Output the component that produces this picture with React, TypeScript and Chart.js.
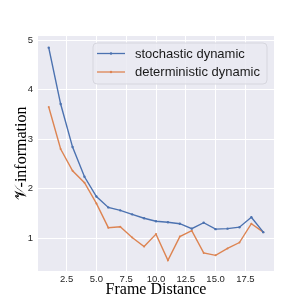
import React, { useEffect, useRef } from "react";
import { Chart, registerables } from "chart.js";

Chart.register(...registerables);

const frameDistance = [1, 2, 3, 4, 5, 6, 7, 8, 9, 10, 11, 12, 13, 14, 15, 16, 17, 18, 19];
const stochastic = [4.85, 3.71, 2.84, 2.24, 1.84, 1.62, 1.56, 1.48, 1.4, 1.34, 1.32, 1.29, 1.19, 1.31, 1.18, 1.19, 1.22, 1.42, 1.12];
const deterministic = [3.65, 2.8, 2.36, 2.12, 1.7, 1.21, 1.23, 1.01, 0.83, 1.08, 0.55, 1.03, 1.15, 0.7, 0.65, 0.79, 0.91, 1.29, 1.12];
const xTicks = [2.5, 5.0, 7.5, 10.0, 12.5, 15.0, 17.5];
const yTicks = [1, 2, 3, 4, 5];
const seriesNames = ["stochastic dynamic", "deterministic dynamic"];
const seriesColors = ["#4C72B0", "#DD8452"];

const bgPlugin = {
  id: "bgPlugin",
  beforeDraw(chart: any) {
    const { ctx, chartArea } = chart;
    ctx.save();
    ctx.fillStyle = "#EAEAF2";
    ctx.fillRect(chartArea.left, chartArea.top, chartArea.right - chartArea.left, chartArea.bottom - chartArea.top);
    ctx.restore();
  },
};

const legendPlugin = {
  id: "customLegend",
  afterDraw(chart: any) {
    const { ctx } = chart;
    const x0 = 93, y0 = 43, w = 174, h = 41, r = 4;
    ctx.save();
    ctx.beginPath();
    ctx.moveTo(x0 + r, y0);
    ctx.arcTo(x0 + w, y0, x0 + w, y0 + h, r);
    ctx.arcTo(x0 + w, y0 + h, x0, y0 + h, r);
    ctx.arcTo(x0, y0 + h, x0, y0, r);
    ctx.arcTo(x0, y0, x0 + w, y0, r);
    ctx.closePath();
    ctx.fillStyle = "rgba(234,234,242,0.85)";
    ctx.fill();
    ctx.strokeStyle = "#d6d6de";
    ctx.lineWidth = 1;
    ctx.stroke();
    ctx.font = "13px 'Liberation Sans', Arial, sans-serif";
    ctx.textBaseline = "middle";
    ctx.textAlign = "left";
    seriesNames.forEach((name, i) => {
      const yy = 53.5 + i * 18.5;
      ctx.strokeStyle = seriesColors[i];
      ctx.lineWidth = 1.3;
      ctx.beginPath();
      ctx.moveTo(97, yy);
      ctx.lineTo(125, yy);
      ctx.stroke();
      ctx.fillStyle = seriesColors[i];
      ctx.beginPath();
      ctx.arc(111, yy, 1.2, 0, Math.PI * 2);
      ctx.fill();
      ctx.fillStyle = "#1a1a1a";
      ctx.fillText(name, 135, yy + 0.5);
    });
    ctx.restore();
  },
};

export default function App() {
  const ref = useRef<HTMLCanvasElement>(null);
  useEffect(() => {
    if (!ref.current) return;
    const chart = new Chart(ref.current, {
      type: "line",
      data: {
        datasets: [
          {
            label: seriesNames[0],
            data: frameDistance.map((x, i) => ({ x, y: stochastic[i] })),
            borderColor: seriesColors[0],
            backgroundColor: seriesColors[0],
            borderWidth: 1.4,
            pointRadius: 1.2,
            pointBorderWidth: 0,
            tension: 0,
          },
          {
            label: seriesNames[1],
            data: frameDistance.map((x, i) => ({ x, y: deterministic[i] })),
            borderColor: seriesColors[1],
            backgroundColor: seriesColors[1],
            borderWidth: 1.4,
            pointRadius: 1.0,
            pointBorderWidth: 0,
            tension: 0,
          },
        ],
      },
      options: {
        animation: false,
        responsive: false,
        maintainAspectRatio: false,
        layout: { padding: { top: 36, right: 31, left: 0, bottom: 0 } },
        plugins: { legend: { display: false }, tooltip: { enabled: false } },
        scales: {
          x: {
            type: "linear",
            min: 0.1,
            max: 19.9,
            afterFit: (s: any) => { s.height = 34; },
            afterBuildTicks: (s: any) => { s.ticks = xTicks.map((v) => ({ value: v })); },
            grid: { color: "#ffffff", lineWidth: 1, drawTicks: false },
            border: { display: false },
            ticks: {
              padding: 3,
              color: "#262626",
              font: { family: "'Liberation Sans', Arial, sans-serif", size: 9.5 },
              callback: (v: any) => Number(v).toFixed(1),
              maxRotation: 0,
            },
            title: {
              display: true,
              text: "Frame Distance",
              color: "#000",
              font: { family: "'Liberation Serif', 'Times New Roman', serif", size: 16 },
              padding: { top: 0, bottom: 6 },
            },
          },
          y: {
            type: "linear",
            min: 0.334,
            max: 5.086,
            afterFit: (s: any) => { s.width = 38; },
            afterBuildTicks: (s: any) => { s.ticks = yTicks.map((v) => ({ value: v })); },
            grid: { color: "#ffffff", lineWidth: 1, drawTicks: false },
            border: { display: false },
            ticks: {
              padding: 5,
              color: "#262626",
              font: { family: "'Liberation Sans', Arial, sans-serif", size: 9.5 },
              callback: (v: any) => String(v),
            },
            title: {
              display: true,
              text: "\u{1D4B1}-information",
              color: "#000",
              font: { family: "'Liberation Serif', 'DejaVu Serif', serif", size: 16 },
              padding: { top: 12, bottom: 0 },
            },
          },
        },
      },
      plugins: [bgPlugin, legendPlugin],
    });
    return () => chart.destroy();
  }, []);
  return (
    <div style={{ position: "absolute", left: 0, top: 0, width: 305, height: 305, background: "#fff" }}>
      <canvas ref={ref} width={305} height={305} style={{ width: 305, height: 305 }} />
    </div>
  );
}
